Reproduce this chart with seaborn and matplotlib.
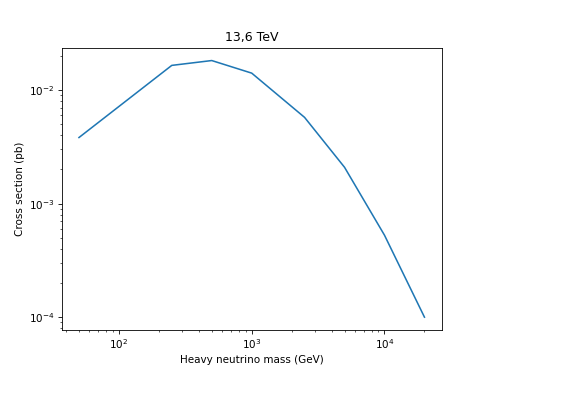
import matplotlib
matplotlib.use("Agg")
import matplotlib.pyplot as plt
import seaborn as sns
import pandas as pd

mass_gev = [50, 250, 500, 1000, 2500, 5000, 10000, 20000]
cross_section_pb = [0.00382, 0.0165, 0.0182, 0.0141, 0.00575, 0.00209, 0.000527, 0.0001]

df = pd.DataFrame({"mass": mass_gev, "xsec": cross_section_pb})

DPI = 75
fig = plt.figure(figsize=(563 / DPI, 397 / DPI), dpi=DPI)
ax = fig.add_axes([0.1096, 0.1688, 0.675, 0.711])
sns.lineplot(data=df, x="mass", y="xsec", ax=ax, color="#1f77b4", linewidth=1.5)
ax.set_xscale("log")
ax.set_yscale("log")
ax.set_xlabel("Heavy neutrino mass (GeV)")
ax.set_ylabel("Cross section (pb)")
ax.set_title("13,6 TeV")
fig.savefig("out.png", dpi=DPI)
